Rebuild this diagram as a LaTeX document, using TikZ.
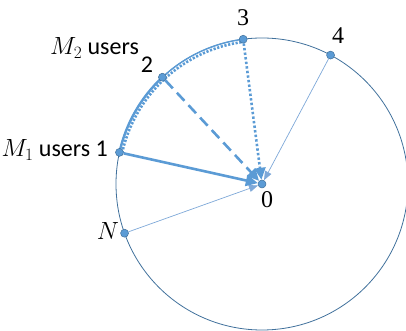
\documentclass[tikz,border=0pt]{standalone}
\usepackage{fontspec}
\setmainfont{Carlito}
\newfontfamily\serifdig{Liberation Serif}
\usetikzlibrary{arrows.meta}
\definecolor{lb}{HTML}{5B9BD5}
\definecolor{db}{HTML}{41719C}
\definecolor{tb}{HTML}{7EA8D8}
\tikzset{
  dot/.style={circle,fill=lb,draw=db,line width=0.5pt,inner sep=0pt,minimum size=8pt},
  lbl/.style={inner sep=0pt,font=\fontsize{24}{28}\selectfont},
  sdig/.style={lbl,font=\fontsize{24}{28}\selectfont\serifdig},
  thick arrow/.style={lb,line width=2.6pt,-{Triangle[length=12pt,width=11pt]}},
  thin arrow/.style={tb,line width=0.7pt,-{Triangle[length=9pt,width=7pt]}},
}
\begin{document}
\begin{tikzpicture}[x=1pt,y=1pt]
\useasboundingbox (0,0) rectangle (406,331);
\coordinate (c0) at (262,147);
\path (c0) ++(167.5:146pt) coordinate (c1);
\path (c0) ++(133:146pt) coordinate (c2);
\path (c0) ++(97.4:146pt) coordinate (c3);
\path (c0) ++(62:146pt) coordinate (c4);
\path (c0) ++(199.7:146pt) coordinate (cN);
\path (c0) ++(167.5:143.3pt) coordinate (d1);
% circle
\draw[db,line width=0.8pt] (c0) circle[radius=146pt];
% arcs
\draw[lb,line width=1.4pt] (c1) arc[start angle=167.5,end angle=97.4,radius=146pt];
\draw[lb,line width=2.4pt] (c1) arc[start angle=167.5,end angle=133,radius=146pt];
\draw[lb,line width=2.6pt,dash pattern=on 2.2pt off 1.6pt] (d1) arc[start angle=167.5,end angle=97.4,radius=143.3pt];
% dots
\node[dot] (p0) at (c0) {};
\node[dot] (p1) at (c1) {};
\node[dot] (p2) at (c2) {};
\node[dot] (p3) at (c3) {};
\node[dot] (p4) at (c4) {};
\node[dot] (pN) at (cN) {};
% connectors
\draw[thin arrow] (p4) -- (p0);
\draw[thin arrow] (pN) -- (p0);
\draw[thick arrow] (p1) -- (p0);
\draw[thick arrow,dash pattern=on 11pt off 6pt] (p2) -- (p0);
\draw[thick arrow,dash pattern=on 2.4pt off 2.2pt] (p3) -- (p0);
% labels
\node[lbl,anchor=base east] (l1) at (108,174) {$M_1$ users 1};
\node[lbl,anchor=base west] (m2) at (50,276) {$M_2$ users};
\node[lbl,anchor=base] (l2) at (147,258) {2};
\node[sdig,anchor=base] (l3) at (243,305) {3};
\node[sdig,anchor=base] (l4) at (338,287) {4};
\node[lbl,anchor=base] (lN) at (108,91) {$N$};
\node[sdig,anchor=base] (l0) at (267,123) {0};
\end{tikzpicture}
\end{document}
